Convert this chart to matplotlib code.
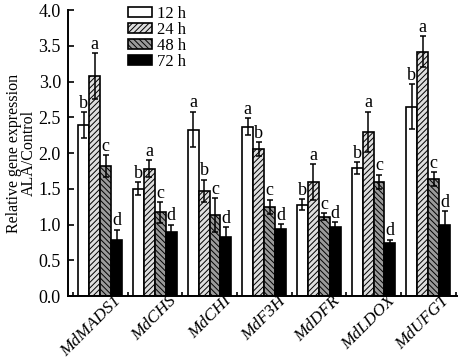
import matplotlib
matplotlib.use("Agg")
import matplotlib.pyplot as plt
import numpy as np
from matplotlib.transforms import ScaledTranslation

plt.rcParams["font.family"] = ["Liberation Serif", "DejaVu Serif"]
plt.rcParams["hatch.linewidth"] = 0.7

genes = ["MdMADS1", "MdCHS", "MdCHI", "MdF3H", "MdDFR", "MdLDOX", "MdUFGT"]
tider = ["12 h", "24 h", "48 h", "72 h"]

# middelværdier pr. tidspunkt (én liste pr. serie)
v12 = [2.39, 1.50, 2.33, 2.37, 1.28, 1.79, 2.65]
v24 = [3.08, 1.78, 1.47, 2.06, 1.60, 2.30, 3.42]
v48 = [1.82, 1.17, 1.13, 1.25, 1.11, 1.60, 1.64]
v72 = [0.79, 0.90, 0.83, 0.94, 0.97, 0.74, 1.00]

# standardafvigelser
s12 = [0.18, 0.09, 0.25, 0.12, 0.08, 0.08, 0.31]
s24 = [0.32, 0.12, 0.16, 0.10, 0.25, 0.28, 0.22]
s48 = [0.15, 0.15, 0.24, 0.10, 0.05, 0.10, 0.10]
s72 = [0.14, 0.10, 0.13, 0.07, 0.06, 0.05, 0.19]

# signifikansbogstaver
b12 = ["b", "b", "a", "a", "b", "b", "b"]
b24 = ["a", "a", "b", "b", "a", "a", "a"]
b48 = ["c", "c", "c", "c", "c", "c", "c"]
b72 = ["d", "d", "d", "d", "d", "d", "d"]

vaerdier = [v12, v24, v48, v72]
fejl = [s12, s24, s48, s72]
bogstaver = [b12, b24, b48, b72]
udseende = [
    dict(color="white", hatch=None),
    dict(color="#dedede", hatch="//////"),
    dict(color="#9a9a9a", hatch="\\\\\\\\\\\\"),
    dict(color="black", hatch=None),
]

fig = plt.figure(figsize=(4.59, 3.62), dpi=100)
ax = fig.add_axes([0.148, 0.182, 0.848, 0.790])

x = np.arange(len(genes))
bredde = 0.2
for i in range(4):
    pos = x + (i - 1.5) * bredde
    ax.bar(pos, vaerdier[i], bredde, color=udseende[i]["color"],
           hatch=udseende[i]["hatch"], edgecolor="black", linewidth=1.2,
           label=tider[i], zorder=2)
    ax.errorbar(pos, vaerdier[i], yerr=fejl[i], fmt="none", ecolor="black",
                elinewidth=1.1, capsize=2.5, capthick=1.1, zorder=3)
    for p, v, s, b in zip(pos, vaerdier[i], fejl[i], bogstaver[i]):
        ax.annotate(b, (p, v + s), xytext=(0, 3), textcoords="offset points",
                    ha="center", va="baseline", fontsize=13)

ax.set_ylim(0, 4.0)
ax.set_xlim(-0.59, 6.53)
ax.set_yticks(np.arange(0, 4.01, 0.5))
ax.set_yticklabels([f"{t:.1f}" for t in np.arange(0, 4.01, 0.5)], fontsize=13)
ax.tick_params(axis="y", direction="in", length=4, width=1.2, pad=5)

ax.set_xticks(x)
ax.set_xticklabels(genes, rotation=45, ha="right", va="center",
                   rotation_mode="anchor", fontsize=12.5, style="italic")
ax.tick_params(axis="x", length=0, pad=2)
ax.set_xticks(np.arange(-0.5, len(genes), 1), minor=True)
ax.tick_params(axis="x", which="minor", direction="in", length=3, width=1.2)
for lbl in ax.get_xticklabels():
    lbl.set_transform(lbl.get_transform() + ScaledTranslation(0.19, 0, fig.dpi_scale_trans))

for side in ["top", "right"]:
    ax.spines[side].set_visible(False)
for side in ["left", "bottom"]:
    ax.spines[side].set_linewidth(1.4)

ax.set_ylabel("Relative gene expression\nALA/Control", fontsize=11.5, labelpad=1,
              linespacing=0.95)

ax.legend(loc="upper left", bbox_to_anchor=(128 / 459, 1 - 6 / 362),
          bbox_transform=fig.transFigure, frameon=False, fontsize=12,
          handlelength=1.45, handleheight=0.55, handletextpad=0.3,
          labelspacing=0.0, borderpad=0, borderaxespad=0)

fig.savefig("out.png", dpi=100)
